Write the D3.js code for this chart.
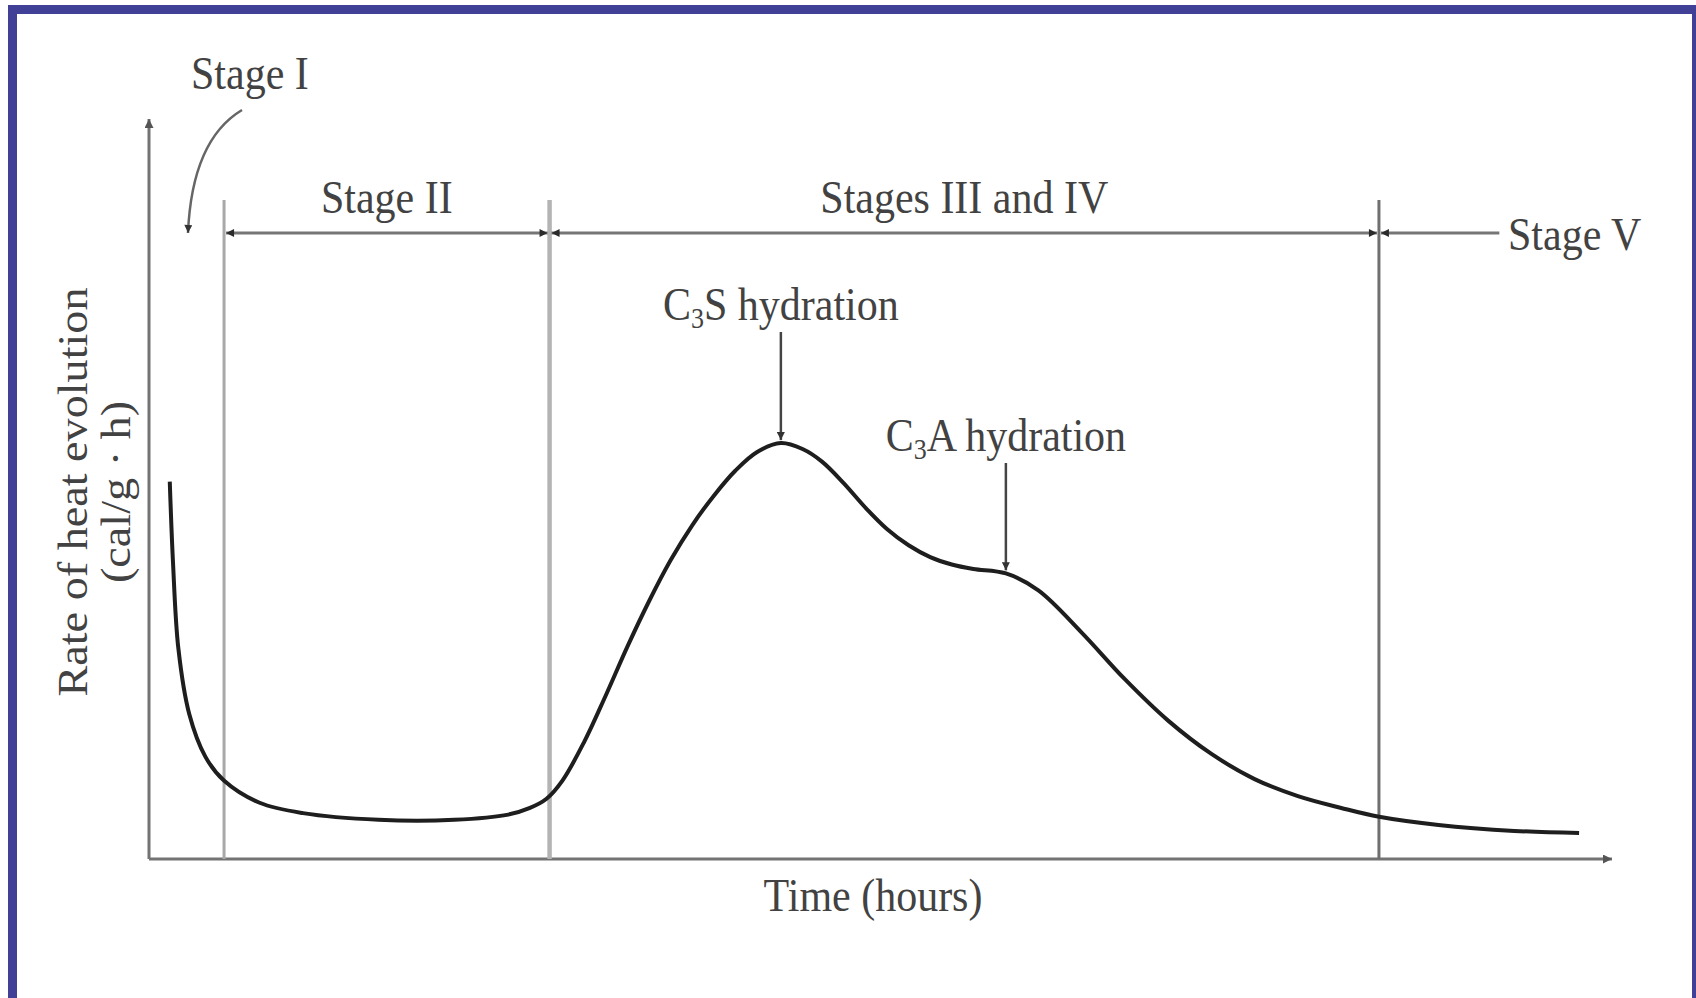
<!DOCTYPE html>
<html>
<head>
<meta charset="utf-8">
<script src="https://cdn.jsdelivr.net/npm/d3@7/dist/d3.min.js"></script>
<style>
  body { margin: 0; background: #fff; }
  svg text { font-family: "Liberation Serif", "DejaVu Serif", serif; fill: #424242; }
</style>
</head>
<body>
<div id="chart"></div>
<script>
// heat evolution curve (time in arbitrary units 0-100, rate in arbitrary units 0-100)
var timeH = [1.42, 1.64, 2.01, 2.75, 3.86, 5.12, 7.56, 10.52, 15.69, 20.87, 24.56, 26.04,
             27.15, 28.26, 29.74, 31.22, 32.70, 34.17, 35.66, 37.13, 38.61, 40.09, 41.57,
             43.19, 44.67, 46.0, 47.48, 48.96, 50.44, 51.92, 53.40, 54.87, 56.35, 58.57,
             60.79, 63.75, 66.7, 69.66, 72.62, 75.57, 78.53, 81.49, 84.08, 88.14, 93.32, 97.75];
var heatRate = [51.0, 40.1, 28.4, 19.6, 13.8, 10.6, 7.6, 6.2, 5.3, 5.3, 6.0, 6.9,
                8.1, 10.6, 15.8, 22.1, 28.7, 34.8, 40.4, 45.1, 49.1, 52.5, 55.0,
                56.2, 55.4, 53.7, 50.8, 47.5, 44.6, 42.4, 40.8, 39.8, 39.2, 38.6,
                36.3, 30.6, 24.3, 18.7, 14.2, 10.8, 8.5, 6.9, 5.7, 4.6, 3.8, 3.5];

// stage boundaries (time) and labels
var stageBounds = [5.13, 27.38, 84.07];
var stageVEnd = 92.3;
var stageLabels = ["Stage II", "Stages III and IV"];

// peak annotations
var peakNames = [["C", "3", "S hydration"], ["C", "3", "A hydration"]];
var peakTimes = [43.19, 58.57];
var peakRates = [56.2, 38.6];

var W = 1696, H = 998;
var svg = d3.select("#chart").append("svg")
        .attr("width", W)
        .attr("height", H);

svg.append("rect").attr("width", W).attr("height", H).attr("fill", "#fff");

// blue frame
svg.append("rect")
        .attr("x", 12.5)
        .attr("y", 9.5)
        .attr("width", 1684)
        .attr("height", 1200)
        .attr("fill", "none")
        .attr("stroke", "#3f4096")
        .attr("stroke-width", 9);

var x = d3.scaleLinear().domain([0, 100]).range([149, 1612]);
var y = d3.scaleLinear().domain([0, 100]).range([859, 119]);

// arrow markers
var defs = svg.append("defs");
function marker(id, w, h, color) {
    defs.append("marker")
            .attr("id", id)
            .attr("viewBox", "0 0 10 10")
            .attr("refX", 10)
            .attr("refY", 5)
            .attr("markerUnits", "userSpaceOnUse")
            .attr("markerWidth", w)
            .attr("markerHeight", h)
            .attr("orient", "auto-start-reverse")
            .append("path")
            .attr("d", "M0,0 L10,5 L0,10 z")
            .attr("fill", color);
}
marker("dim", 12, 8, "#2a2a2a");
marker("ax", 14, 9, "#555");
marker("ann", 10, 8, "#333");

// axes (no ticks)
var gx = svg.append("g")
        .attr("transform", "translate(0," + y(0) + ")")
        .call(d3.axisBottom(x).ticks(0).tickSizeOuter(0));
var gy = svg.append("g")
        .attr("transform", "translate(" + x(0) + ",0)")
        .call(d3.axisLeft(y).ticks(0).tickSizeOuter(0));
[gx, gy].forEach(function (g) {
    g.select(".domain")
            .attr("stroke", "#737373")
            .attr("stroke-width", 3)
            .attr("marker-end", "url(#ax)");
});
gy.select(".domain").attr("d", "M0," + y(0) + "V" + y(100));
gx.select(".domain").attr("d", "M" + x(0) + ",0H" + x(100));

// stage boundary lines
var lineTop = 200;
var boundColors = ["#a8a8a8", "#b4b4b4", "#6f6f6f"];
var boundWidths = [3, 4.5, 3];
svg.selectAll(".bound")
        .data(stageBounds)
        .enter().append("line")
        .attr("class", "bound")
        .attr("x1", function (d) { return x(d); })
        .attr("x2", function (d) { return x(d); })
        .attr("y1", lineTop)
        .attr("y2", y(0))
        .attr("stroke", function (d, i) { return boundColors[i]; })
        .attr("stroke-width", function (d, i) { return boundWidths[i]; });

// dimension lines
var dimY = 233;
var segs = [[stageBounds[0], stageBounds[1], true], [stageBounds[1], stageBounds[2], true], [stageBounds[2], stageVEnd, false]];
svg.selectAll(".dim")
        .data(segs)
        .enter().append("line")
        .attr("class", "dim")
        .attr("x1", function (d) { return x(d[0]) + 2; })
        .attr("x2", function (d) { return d[2] ? x(d[1]) - 2 : x(d[1]); })
        .attr("y1", dimY)
        .attr("y2", dimY)
        .attr("stroke", "#767676")
        .attr("stroke-width", 3)
        .attr("marker-start", "url(#dim)")
        .attr("marker-end", function (d) { return d[2] ? "url(#dim)" : null; });

// texts
function label(txt, cx, by, anchor) {
    return svg.append("text")
            .attr("transform", "translate(" + cx + "," + by + ") scale(1,1.1)")
            .attr("text-anchor", anchor || "middle")
            .attr("font-size", 42)
            .text(txt);
}
stageLabels.forEach(function (s, i) {
    label(s, (x(stageBounds[i]) + x(stageBounds[i + 1])) / 2, 213);
});
label("Stage V", 1508, 250, "start");
label("Stage I", 191, 89, "start");
label("Time (hours)", 873, 911);

// y label
svg.append("text")
        .attr("transform", "translate(87,492) rotate(-90) scale(1.1,1)")
        .attr("text-anchor", "middle")
        .attr("font-size", 42)
        .text("Rate of heat evolution");
svg.append("text")
        .attr("transform", "translate(130,492) rotate(-90) scale(1.1,1)")
        .attr("text-anchor", "middle")
        .attr("font-size", 42)
        .text("(cal/g \u00b7 h)");

// Stage I curved arrow
svg.append("path")
        .attr("d", "M242,110 Q192,140 188,233")
        .attr("fill", "none")
        .attr("stroke", "#666")
        .attr("stroke-width", 2.5)
        .attr("marker-end", "url(#ann)");

// curve
var pts = timeH.map(function (t, i) { return [t, heatRate[i]]; });
var line = d3.line()
        .x(function (d) { return x(d[0]); })
        .y(function (d) { return y(d[1]); })
        .curve(d3.curveCatmullRom.alpha(0.5));
svg.append("path")
        .datum(pts)
        .attr("d", line)
        .attr("fill", "none")
        .attr("stroke", "#1e1e1e")
        .attr("stroke-width", 4);

// peak annotations
var annBase = [320, 451];
peakNames.forEach(function (p, i) {
    var cx = x(peakTimes[i]);
    var t = svg.append("text")
            .attr("transform", "translate(" + cx + "," + annBase[i] + ") scale(1,1.1)")
            .attr("text-anchor", "middle")
            .attr("font-size", 42);
    t.append("tspan").text(p[0]);
    t.append("tspan").attr("font-size", 26).attr("dy", 7).text(p[1]);
    t.append("tspan").attr("dy", -7).text(p[2]);
    svg.append("line")
            .attr("x1", cx)
            .attr("x2", cx)
            .attr("y1", annBase[i] + 12)
            .attr("y2", y(peakRates[i]) - 3)
            .attr("stroke", "#444")
            .attr("stroke-width", 2.5)
            .attr("marker-end", "url(#ann)");
});
</script>
</body>
</html>
